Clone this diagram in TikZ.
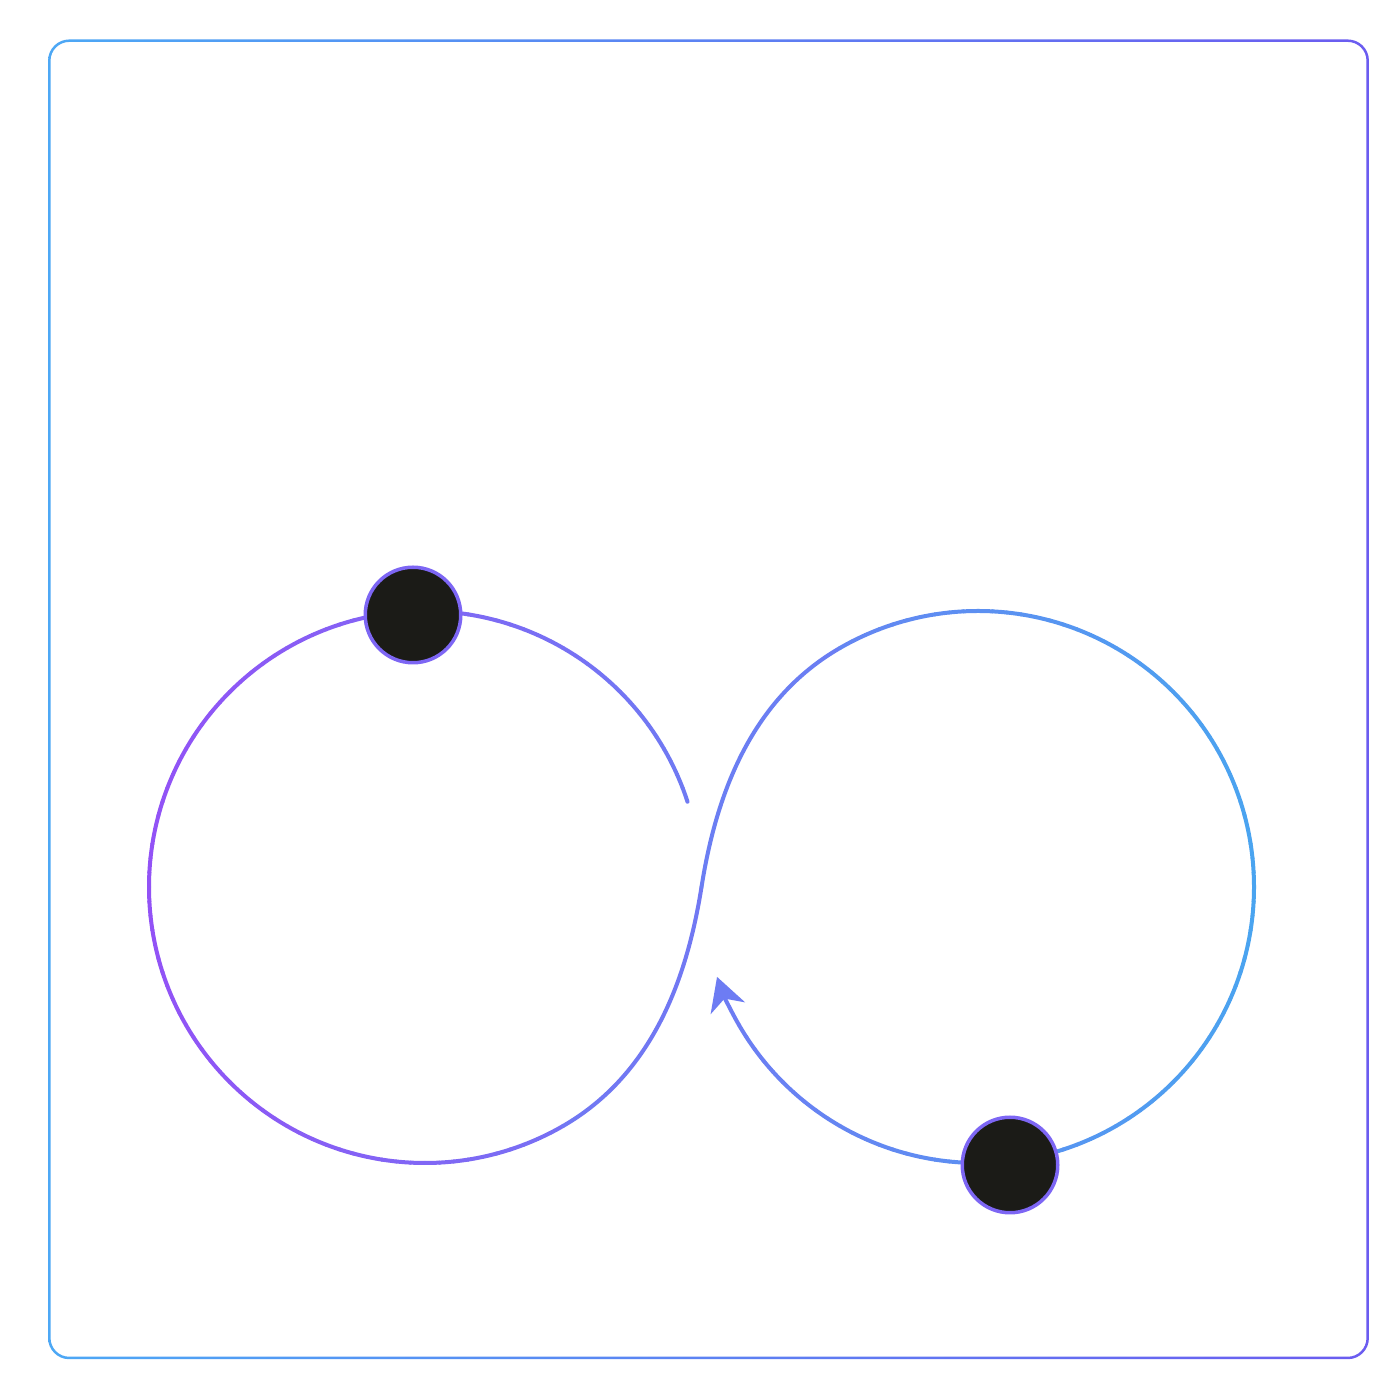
\documentclass[tikz,border=0pt]{standalone}
\usetikzlibrary{arrows.meta,calc}
\definecolor{loopstart}{RGB}{146,82,246}
\definecolor{loopend}{RGB}{74,164,240}
\definecolor{frameleft}{RGB}{77,168,245}
\definecolor{framemid}{RGB}{167,139,250}
\definecolor{frameright}{RGB}{107,92,240}
\definecolor{dotring}{RGB}{125,102,244}
\definecolor{dotfill}{RGB}{27,27,23}
\tikzset{
    dot/.style={circle, draw=dotring, fill=dotfill, line width=0.35mm,
        minimum size=0.955cm, inner sep=0pt},
    loopline/.style={line width=0.4mm, line cap=round},
}
\begin{document}
\begin{tikzpicture}
    \pgfmathsetmacro\radius{2.76};
    \pgfmathsetmacro\leftx{4.25};
    \pgfmathsetmacro\rightx{9.78};
    \pgfmathsetmacro\midy{5.13};
    \pgfmathsetmacro\xmin{\leftx - \radius};
    \pgfmathsetmacro\xspan{\rightx - \leftx + 2 * \radius};

    \useasboundingbox[fill=white] (0,0) rectangle (14,14);
    \shade[left color=frameleft, middle color=framemid, right color=frameright,
        even odd rule]
        [rounded corners=2.125mm] (0.4805,0.4075) rectangle (13.6895,13.6055)
        [rounded corners=1.875mm] (0.5055,0.4325) rectangle (13.6645,13.5805);

    \foreach \a in {18,21,...,297} {
        \pgfmathsetmacro\t{100 * (\leftx + \radius * cos(\a + 1.5) - \xmin) / \xspan}
        \colorlet{segcolor}{loopend!\t!loopstart}
        \draw[loopline, segcolor] (\leftx,\midy) ++(\a:\radius)
            arc[start angle=\a, end angle=\a+3, radius=\radius];
    }

    \coordinate (joinL) at ($(\leftx,\midy) + (-60:\radius)$);
    \coordinate (cross) at ({0.5 * (\leftx + \rightx)},\midy);
    \coordinate (joinR) at ($(\rightx,\midy) + (120:\radius)$);
    \pgfmathsetmacro\t{100 * (6.55 - \xmin) / \xspan}
    \colorlet{segcolor}{loopend!\t!loopstart}
    \draw[loopline, segcolor] (joinL) .. controls +(30:1.05) and +(-99:0.9) .. (cross);
    \pgfmathsetmacro\t{100 * (7.48 - \xmin) / \xspan}
    \colorlet{segcolor}{loopend!\t!loopstart}
    \draw[loopline, segcolor] (cross) .. controls +(81:0.9) and +(210:1.05) .. (joinR);

    \foreach \a in {120,117,...,-147} {
        \pgfmathsetmacro\t{100 * (\rightx + \radius * cos(\a - 1.5) - \xmin) / \xspan}
        \colorlet{segcolor}{loopend!\t!loopstart}
        \draw[loopline, segcolor] (\rightx,\midy) ++(\a:\radius)
            arc[start angle=\a, end angle=\a-3, radius=\radius];
    }
    \pgfmathsetmacro\t{100 * (\rightx + \radius * cos(-158) - \xmin) / \xspan}
    \colorlet{segcolor}{loopend!\t!loopstart}
    \draw[loopline, segcolor, -{Stealth[length=3.3mm, width=3.6mm, inset=1mm]}]
        (\rightx,\midy) ++(-150:\radius)
        arc[start angle=-150, end angle=-161, radius=\radius];

    \node[dot] (dotL) at (4.13,7.85) {};
    \node[dot] (dotR) at (10.10,2.35) {};
\end{tikzpicture}
\end{document}
